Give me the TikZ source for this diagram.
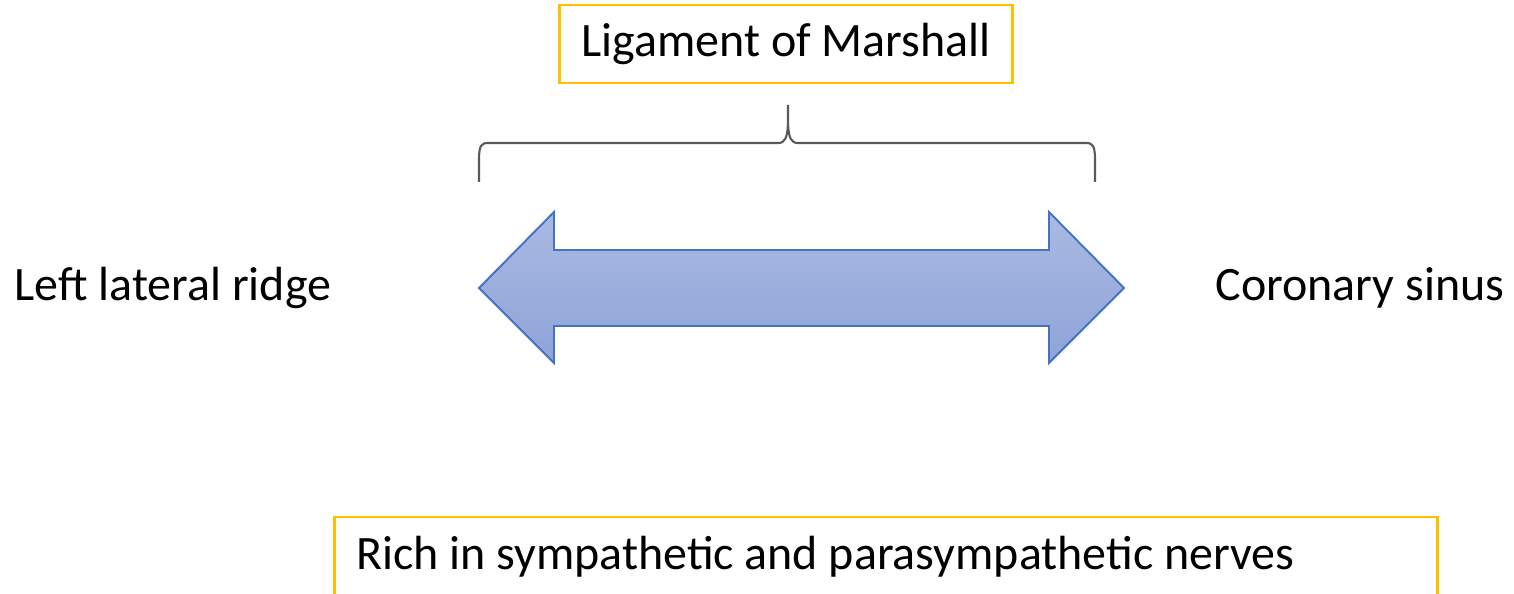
\documentclass[tikz,border=0pt]{standalone}
\usepackage{fontspec}
\setmainfont{Carlito}
\usepackage{tikz}
\usetikzlibrary{shapes.geometric, arrows}
\definecolor{boxgold}{HTML}{FFC000}
\definecolor{arrowedge}{HTML}{4472C4}
\definecolor{arrowtop}{HTML}{AAB9E1}
\definecolor{arrowbot}{HTML}{8EA4D8}
\definecolor{bracegray}{HTML}{595959}
\tikzstyle{labelbox} = [rectangle, draw=boxgold, line width=1.4pt, minimum height=1.56cm, text centered, font=\fontsize{27.3}{32}\selectfont]
\tikzstyle{sidetext} = [inner sep=0pt, font=\fontsize{27.3}{32}\selectfont]
\tikzstyle{dblarrow} = [draw=arrowedge, line width=1.1pt, top color=arrowtop, bottom color=arrowbot]
\tikzstyle{bracelines} = [draw=bracegray, line width=1.2pt]

\begin{document}
\begin{tikzpicture}[x=0.02cm, y=-0.02cm]
        \useasboundingbox (0,0) rectangle (1514,594);
        \node (lom) [labelbox, minimum width=9.06cm] at (786,44) {Ligament of Marshall};
        \node (llr) [sidetext] at (173,288) {Left lateral ridge};
        \node (cs) [sidetext] at (1360,288) {Coronary sinus};
        \node (nerves) [labelbox, minimum width=22.06cm, minimum height=1.6cm, text width=21.2cm, align=flush left] at (886,557) {Rich in sympathetic and parasympathetic nerves};
        % double headed arrow
        \path [dblarrow] (479,288) -- (554,212) -- (554,250) -- (1049,250) -- (1049,212) -- (1124,288)
              -- (1049,363) -- (1049,326) -- (554,326) -- (554,363) -- cycle;
        % brace under the label
        \draw [bracelines] (479,182) -- (479,160) .. controls (479,146) and (481,143) .. (488,143) -- (778,143)
              .. controls (785,143) and (787,138) .. (788,125) -- (788,105);
        \draw [bracelines] (788,125) .. controls (789,138) and (791,143) .. (798,143) -- (1086,143)
              .. controls (1093,143) and (1095,146) .. (1095,160) -- (1095,182);
\end{tikzpicture}
\end{document}
